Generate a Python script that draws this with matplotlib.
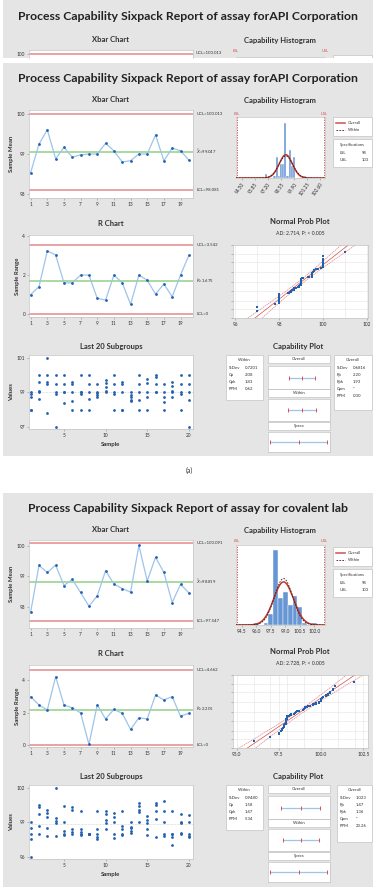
import numpy as np
import matplotlib.pyplot as plt
from matplotlib.patches import Rectangle
from statistics import NormalDist

W, H = 378, 892
plt.rcParams['font.family'] = ['Lato', 'DejaVu Sans']

# ---------------- data ----------------
sample_no = np.arange(1, 21)

# panel (a): API Corporation
api_title = "Process Capability Sixpack Report of assay forAPI Corporation"
api_xbar = [98.53, 99.25, 99.61, 98.88, 99.17, 98.92, 98.98, 99.00, 99.00, 99.27,
            99.08, 98.80, 98.83, 99.00, 99.00, 99.48, 98.83, 99.15, 99.08, 98.85]
api_range = [1.00, 1.40, 3.23, 3.03, 1.60, 1.60, 2.00, 2.00, 0.80, 0.72,
             2.00, 1.60, 0.50, 2.00, 1.74, 1.02, 1.54, 0.89, 2.00, 3.00]
api_subgroups = [
    [99.0, 98.9, 98.7, 98.0, 98.0], [100.0, 99.6, 99.0, 99.1, 98.6],
    [101.0, 100.0, 99.6, 99.5, 97.8], [100.0, 99.5, 99.0, 98.9, 97.0],
    [100.0, 99.5, 99.0, 99.0, 98.4], [99.6, 99.5, 99.0, 98.5, 98.0],
    [100.0, 99.0, 99.0, 98.9, 98.0], [100.0, 99.5, 99.0, 98.6, 98.0],
    [99.5, 99.0, 98.85, 98.7, 98.95], [99.7, 99.55, 99.3, 99.1, 99.0],
    [100.0, 99.5, 99.0, 98.9, 98.0], [99.6, 99.5, 99.0, 98.0, 98.0],
    [99.0, 98.85, 98.7, 98.55, 98.5], [100.0, 99.5, 99.0, 98.55, 98.0],
    [99.75, 99.55, 99.0, 98.75, 98.0], [100.0, 99.9, 99.5, 99.0, 99.0],
    [99.5, 99.0, 98.7, 98.45, 98.0], [99.6, 99.35, 99.05, 99.0, 98.7],
    [100.0, 99.5, 99.0, 98.9, 98.0], [100.0, 99.5, 99.0, 98.55, 97.0],
]
api_limits = {"ucl": 100.013, "cl": 99.047, "lcl": 98.081, "r_ucl": 3.542, "r_cl": 1.675}
api_sd = {"within": 0.7201, "overall": 0.6816}
api_ad = "AD: 2.714, P: < 0.005"
api_within_stats = [("StDev", "0.7201"), ("Cp", "2.08"), ("Cpk", "1.83"), ("PPM", "0.62")]
api_overall_stats = [("StDev", "0.6816"), ("Pp", "2.20"), ("Ppk", "1.93"), ("Cpm", "*"), ("PPM", "0.00")]
api_hist_ticks = [94.50, 95.85, 97.20, 98.55, 99.90, 101.25, 102.60]
api_prob_ticks = [96, 98, 100, 102]

# panel (b): covalent lab
cov_title = "Process Capability Sixpack Report of assay for covalent lab"
cov_xbar = [97.83, 99.36, 99.13, 99.37, 98.70, 98.90, 98.47, 98.02, 98.36, 99.19,
            98.75, 98.60, 98.48, 100.02, 98.85, 99.63, 99.13, 98.14, 98.74, 98.46]
cov_range = [3.00, 2.49, 2.18, 4.23, 2.49, 2.31, 2.00, 0.06, 2.49, 1.63,
             2.21, 1.98, 0.98, 1.70, 1.63, 3.10, 2.80, 3.00, 1.80, 1.98]
cov_subgroups = [
    [99.0, 98.5, 98.0, 97.5, 96.0], [100.5, 100.3, 99.7, 98.7, 98.0],
    [100.1, 99.85, 99.5, 98.5, 97.8], [101.95, 99.35, 99.15, 98.9, 97.8],
    [100.4, 99.0, 98.2, 98.0, 97.9], [100.3, 100.05, 98.45, 98.15, 97.95],
    [100.0, 98.4, 98.15, 97.95, 97.85], [98.0, 98.0, 98.0, 98.0, 98.0],
    [100.0, 98.45, 97.95, 97.75, 97.5], [100.0, 99.7, 99.2, 98.9, 98.4],
    [99.85, 99.5, 99.05, 97.95, 97.6], [100.0, 98.65, 98.45, 97.95, 97.9],
    [99.0, 98.6, 98.5, 98.2, 98.05], [100.7, 100.4, 100.1, 99.9, 99.05],
    [99.55, 99.2, 98.9, 98.45, 97.9], [100.7, 100.5, 100.0, 99.25, 97.7],
    [100.85, 100.0, 99.05, 97.95, 97.8], [100.0, 98.0, 97.95, 97.75, 97.0],
    [99.7, 99.05, 98.9, 98.1, 97.95], [99.6, 99.05, 97.95, 97.8, 97.7],
]
cov_limits = {"ucl": 100.091, "cl": 98.819, "lcl": 97.547, "r_ucl": 4.662, "r_cl": 2.205}
cov_sd = {"within": 0.9480, "overall": 1.023}
cov_ad = "AD: 2.728, P: < 0.005"
cov_within_stats = [("StDev", "0.9480"), ("Cp", "1.58"), ("Cpk", "1.47"), ("PPM", "5.34")]
cov_overall_stats = [("StDev", "1.023"), ("Pp", "1.47"), ("Ppk", "1.36"), ("Cpm", "*"), ("PPM", "23.26")]
cov_hist_ticks = [94.5, 96.0, 97.5, 99.0, 100.5, 102.0]
cov_prob_ticks = [95.0, 97.5, 100.0, 102.5]

lsl, usl = 94, 103

# ---------------- style ----------------
PANEL = '#e5e5e5'
RED = '#e9a3a3'
GREEN = '#a9d9a0'
LINE = '#9fc4e8'
DOT = '#2161b0'
BAR = '#6796d4'
FRAME = '#c4c4c4'
TXT = '#303030'
TITLE_SIZE = 8.8
SUB_SIZE = 5.5

fig = plt.figure(figsize=(W / 100, H / 100), dpi=100)
fig.patch.set_facecolor('white')


def rect(x0, y0, x1, y1):
    return [x0 / W, 1 - y1 / H, (x1 - x0) / W, (y1 - y0) / H]


def ftext(x, y, s, size=4, **kw):
    kw.setdefault('color', TXT)
    fig.text(x / W, 1 - y / H, s, fontsize=size, ha=kw.pop('ha', 'center'),
             va=kw.pop('va', 'center'), **kw)


def box(x0, y0, x1, y1, fc='white', ec=FRAME, lw=0.5, z=-5):
    fig.patches.append(Rectangle((x0 / W, 1 - y1 / H), (x1 - x0) / W, (y1 - y0) / H,
                                 transform=fig.transFigure, fc=fc, ec=ec, lw=lw, zorder=z))


def style(ax):
    for sp in ax.spines.values():
        sp.set_color(FRAME)
        sp.set_linewidth(0.5)
    ax.tick_params(labelsize=3.4, length=1.5, width=0.4, pad=1.2, colors='#888888',
                   labelcolor=TXT)


def control_chart(bx, vals, ucl, cl, lcl, ylim, yticks, labels, ylabel):
    ax = fig.add_axes(rect(*bx))
    ax.axhline(ucl, color=RED, lw=1.4, zorder=1)
    ax.axhline(lcl, color=RED, lw=1.4, zorder=1)
    ax.axhline(cl, color=GREEN, lw=1.4, zorder=1)
    ax.plot(sample_no, vals, color=LINE, lw=0.9, zorder=2)
    ax.plot(sample_no, vals, 'o', color=DOT, ms=2.0, mew=0, zorder=3)
    ax.set_xlim(0.8, 20.5)
    ax.set_ylim(*ylim)
    ax.set_xticks(range(1, 20, 2))
    ax.set_yticks(yticks)
    style(ax)
    for v, s in zip((ucl, cl, lcl), labels):
        ax.text(1.02, v, s, transform=ax.get_yaxis_transform(), fontsize=3.1,
                va='center', ha='left', color=TXT)
    ax.set_ylabel(ylabel, fontsize=4.3, fontweight='bold', labelpad=2, color=TXT)
    return ax


def histogram(bx, subgroups, bin_w, centre, mean, sd, ticks, rot, fmt, head):
    vals = np.concatenate(subgroups)
    edges = centre + bin_w * (np.arange(-45, 46) - 0.5)
    ax = fig.add_axes(rect(*bx))
    ax.hist(vals, bins=edges, color=BAR, ec='white', lw=0.3, zorder=2)
    xs = np.linspace(93.0, 104.0, 300)
    for key, col, ls, lw in (("overall", '#c0392b', '-', 1.1), ("within", '#4a1a1a', (0, (2, 1.5)), 0.6)):
        pdf = np.array([NormalDist(mean, sd[key]).pdf(x) for x in xs])
        ax.plot(xs, pdf * len(vals) * bin_w, color=col, ls=ls, lw=lw, zorder=3)
    for v, s in ((lsl, 'LSL'), (usl, 'USL')):
        ax.axvline(v, color='#d04040', ls=(0, (1.5, 1.5)), lw=0.6, zorder=4)
        ax.text(v, 1.02, s, transform=ax.get_xaxis_transform(), fontsize=2.8,
                color='#d04040', ha='center', va='bottom')
    ax.set_xlim(lsl - 0.1, usl + 0.1)
    counts, _ = np.histogram(vals, bins=edges)
    ax.set_ylim(0, counts.max() * head)
    ax.set_yticks([])
    ax.set_xticks(ticks)
    ax.set_xticklabels([fmt.format(t) for t in ticks], rotation=rot,
                       ha='right' if rot else 'center', rotation_mode='anchor' if rot else 'default')
    style(ax)
    return ax


def legend_boxes(y):
    # legend (Overall / Within)
    box(333, y, 372, y + 19)
    fig.add_artist(plt.Line2D([336 / W, 345 / W], [1 - (y + 6) / H] * 2, color='#d06060', lw=1.2))
    fig.add_artist(plt.Line2D([336 / W, 345 / W], [1 - (y + 13) / H] * 2, color='#4a1a1a', lw=0.6,
                              ls=(0, (2, 1.5))))
    ftext(348, y + 6, 'Overall', size=3.0, ha='left')
    ftext(348, y + 13, 'Within', size=3.0, ha='left')
    # specifications
    box(333, y + 22, 372, y + 50)
    ftext(352.5, y + 28, 'Specifications', size=3.0)
    ftext(340, y + 36, 'LSL', size=3.0, ha='left')
    ftext(362, y + 36, '94', size=3.0, ha='left')
    ftext(340, y + 43, 'USL', size=3.0, ha='left')
    ftext(362, y + 43, '103', size=3.0, ha='left')


def prob_plot(bx, subgroups, mean, sd, xlim, ticks, fmt):
    vals = np.sort(np.concatenate(subgroups))
    n = len(vals)
    nd = NormalDist()
    z = np.array([nd.inv_cdf((i - 0.3) / (n + 0.4)) for i in range(1, n + 1)])
    ax = fig.add_axes(rect(*bx))
    zz = np.linspace(-3.3, 3.3, 50)
    half = 1.96 * sd * np.sqrt(1 / n + zz ** 2 / (2 * (n - 1)))
    ax.plot(mean + sd * zz, zz, color='#d05050', lw=0.5, zorder=2)
    ax.plot(mean + sd * zz - half, zz, color='#e08080', lw=0.5, ls=(0, (2, 1)), zorder=2)
    ax.plot(mean + sd * zz + half, zz, color='#e08080', lw=0.5, ls=(0, (2, 1)), zorder=2)
    ax.plot(vals, z, 's', color=DOT, ms=1.8, mew=0, zorder=3)
    ax.set_xlim(*xlim)
    ax.set_ylim(-3.09, 3.09)
    ax.set_xticks(ticks)
    ax.set_xticklabels([fmt.format(t) for t in ticks])
    ax.set_xticks(np.arange(np.ceil(xlim[0]), xlim[1], 1.0), minor=True)
    pct = [0.001, 0.01, 0.05, 0.2, 0.5, 0.8, 0.95, 0.99, 0.999]
    ax.set_yticks([nd.inv_cdf(p) for p in pct])
    ax.set_yticklabels([])
    ax.tick_params(axis='y', length=0)
    ax.tick_params(axis='x', which='minor', length=0)
    ax.grid(True, which='both', color='#e4e4e4', lw=0.4, zorder=0)
    style(ax)
    return ax


def stat_box(x0, y0, x1, y1, head, rows):
    box(x0, y0, x1, y1)
    ftext((x0 + x1) / 2, y0 + 5, head, size=3.1)
    for i, (k, v) in enumerate(rows):
        ftext(x0 + 2.5, y0 + 13 + i * 7, k, size=3.1, ha='left')
        ftext(x0 + 19, y0 + 13 + i * 7, v, size=3.1, ha='left')


def interval(bx, lo, mid, hi):
    ax = fig.add_axes(rect(*bx))
    ax.plot([lo, hi], [0, 0], color=LINE, lw=0.9, zorder=2)
    ax.plot([lo, mid, hi], [0, 0, 0], '|', color='#e05050', ms=2.5, mew=0.7, zorder=3)
    ax.set_xlim(lsl - 0.35, usl + 0.45)
    ax.set_ylim(-1, 1)
    ax.set_xticks([])
    ax.set_yticks([])
    style(ax)


def capability(dy, mean, sd, within_stats, overall_stats, ow=(334, 372, 410)):
    ftext(298, 347 + dy, 'Capability Plot', size=SUB_SIZE, fontweight='bold')
    stat_box(226, 355 + dy, 263, 400 + dy, 'Within', within_stats)
    stat_box(ow[0], 355 + dy, ow[1], ow[2] + dy, 'Overall', overall_stats)
    rows = [('Overall', 355, 366, 389, sd['overall']), ('Within', 389, 399, 421, sd['within']),
            ('Specs', 422, 432, 452, None)]
    for head, h0, p0, p1, s in rows:
        box(268, h0 + dy, 330, h0 + 8 + dy)
        ftext(299, h0 + 4 + dy, head, size=3.1)
        if s is None:
            interval((268, p0 + dy, 330, p1 + dy), lsl, (lsl + usl) / 2, usl)
        else:
            interval((268, p0 + dy, 330, p1 + dy), mean - 3 * s, mean, mean + 3 * s)


def panel(dy, title, xbar, rng, subgroups, lim, sd, ad, within_stats, overall_stats,
          xbar_ylim, xbar_ticks, r_ylim, last_ylim, last_ticks, hist_box, hist_ticks,
          hist_bw, hist_centre, hist_head, hist_rot, hist_fmt, prob_xlim, prob_ticks, prob_fmt, ow):
    ftext(188, 79 + dy, title, size=TITLE_SIZE, fontweight='bold', color='#222222')
    # xbar
    ftext(111, 100 + dy, 'Xbar Chart', size=SUB_SIZE, fontweight='bold')
    control_chart((29, 110 + dy, 193, 198 + dy), xbar, lim['ucl'], lim['cl'], lim['lcl'],
                  xbar_ylim, xbar_ticks,
                  ['UCL=%.3f' % lim['ucl'], r'$\bar{\bar{X}}$=%.3f' % lim['cl'], 'LCL=%.3f' % lim['lcl']],
                  'Sample Mean')
    # R chart
    ftext(111, 223 + dy, 'R Chart', size=SUB_SIZE, fontweight='bold')
    control_chart((29, 235 + dy, 193, 317 + dy), rng, lim['r_ucl'], lim['r_cl'], 0,
                  r_ylim, [0, 2, 4],
                  ['UCL=%.3f' % lim['r_ucl'], r'$\bar{R}$=%.3f' % lim['r_cl'], 'LCL=0'],
                  'Sample Range')
    # last 20 subgroups
    ftext(111, 347 + dy, 'Last 20 Subgroups', size=SUB_SIZE, fontweight='bold')
    ax = fig.add_axes(rect(29, 355 + dy, 193, 429 + dy))
    allv = np.concatenate(subgroups)
    ax.axhline(allv.mean(), color='#b0b0b0', lw=0.4, ls=(0, (1, 1.5)), zorder=1)
    for i, g in enumerate(subgroups):
        ax.plot([i + 1] * len(g), g, 'o', color=DOT, ms=2.0, mew=0, zorder=3)
    ax.set_xlim(0.8, 20.5)
    ax.set_ylim(*last_ylim)
    ax.set_xticks([5, 10, 15, 20])
    ax.set_yticks(last_ticks)
    style(ax)
    ax.set_ylabel('Values', fontsize=4.3, fontweight='bold', labelpad=2, color=TXT)
    ax.set_xlabel('Sample', fontsize=4.3, fontweight='bold', labelpad=3, color=TXT)
    # histogram
    ftext(280, 100 + dy, 'Capability Histogram', size=SUB_SIZE, fontweight='bold')
    histogram(hist_box, subgroups, hist_bw, hist_centre, lim['cl'], sd,
              hist_ticks, hist_rot, hist_fmt, hist_head)
    legend_boxes(117 + dy)
    # normal probability plot
    ftext(300, 222 + dy, 'Normal Prob Plot', size=SUB_SIZE, fontweight='bold')
    ftext(300, 233 + dy, ad, size=3.7)
    prob_plot((233, 245 + dy, 368, 318 + dy), subgroups, allv.mean(), allv.std(ddof=1),
              prob_xlim, prob_ticks, prob_fmt)
    capability(dy, lim['cl'], sd, within_stats, overall_stats, ow)


# ---------------- backgrounds ----------------
box(3, 0, 373, 58, fc=PANEL, ec='none', z=-10)
box(3, 63, 373, 456, fc=PANEL, ec='none', z=-10)
box(3, 493, 373, 887, fc=PANEL, ec='none', z=-10)

# top strip (cut-off copy of panel a)
ftext(188, 17, api_title, size=TITLE_SIZE, fontweight='bold', color='#222222')
ftext(111, 40, 'Xbar Chart', size=SUB_SIZE, fontweight='bold')
ftext(280, 40, 'Capability Histogram', size=SUB_SIZE, fontweight='bold')
ax = fig.add_axes(rect(29, 50, 193, 58))
ax.axhline(api_limits['ucl'], color=RED, lw=1.4)
ax.set_xlim(0.8, 20.5)
ax.set_ylim(99.907, 100.11)
ax.set_xticks([])
ax.set_yticks([100])
style(ax)
ax.spines['bottom'].set_visible(False)
ftext(196, 53.5, 'UCL=100.013', size=3.1, ha='left')
ftext(236, 51, 'LSL', size=2.8, color='#d04040')
ftext(325, 51, 'USL', size=2.8, color='#d04040')
box(236, 56.5, 325, 60, z=-6)
box(333, 55, 372, 60, z=-6)
box(3, 58, 373, 63, fc='white', ec='none', z=-4)

panel(0, api_title, api_xbar, api_range, api_subgroups, api_limits, api_sd, api_ad,
      api_within_stats, api_overall_stats,
      xbar_ylim=(97.89, 100.11), xbar_ticks=[98, 99, 100], r_ylim=(-0.15, 4.05),
      last_ylim=(96.87, 101.16), last_ticks=[97, 99, 101],
      hist_box=(236, 117, 325, 178), hist_ticks=api_hist_ticks, hist_bw=0.225, hist_centre=99.0,
      hist_head=1.11, hist_rot=55, hist_fmt='{:.2f}',
      prob_xlim=(95.9, 102.05), prob_ticks=api_prob_ticks, prob_fmt='{:g}',
      ow=(334, 372, 410))

ftext(189, 470, '(a)', size=5.0)

panel(430, cov_title, cov_xbar, cov_range, cov_subgroups, cov_limits, cov_sd, cov_ad,
      cov_within_stats, cov_overall_stats,
      xbar_ylim=(97.3, 100.2), xbar_ticks=[98, 99, 100], r_ylim=(-0.1, 4.95),
      last_ylim=(95.8, 102.25), last_ticks=[96, 99, 102],
      hist_box=(236, 545, 325, 625), hist_ticks=cov_hist_ticks, hist_bw=0.5, hist_centre=98.0,
      hist_head=1.065, hist_rot=0, hist_fmt='{:.1f}',
      prob_xlim=(94.78, 102.78), prob_ticks=cov_prob_ticks, prob_fmt='{:.1f}',
      ow=(337, 372, 412))

fig.savefig('out.png', dpi=100, facecolor='white')
